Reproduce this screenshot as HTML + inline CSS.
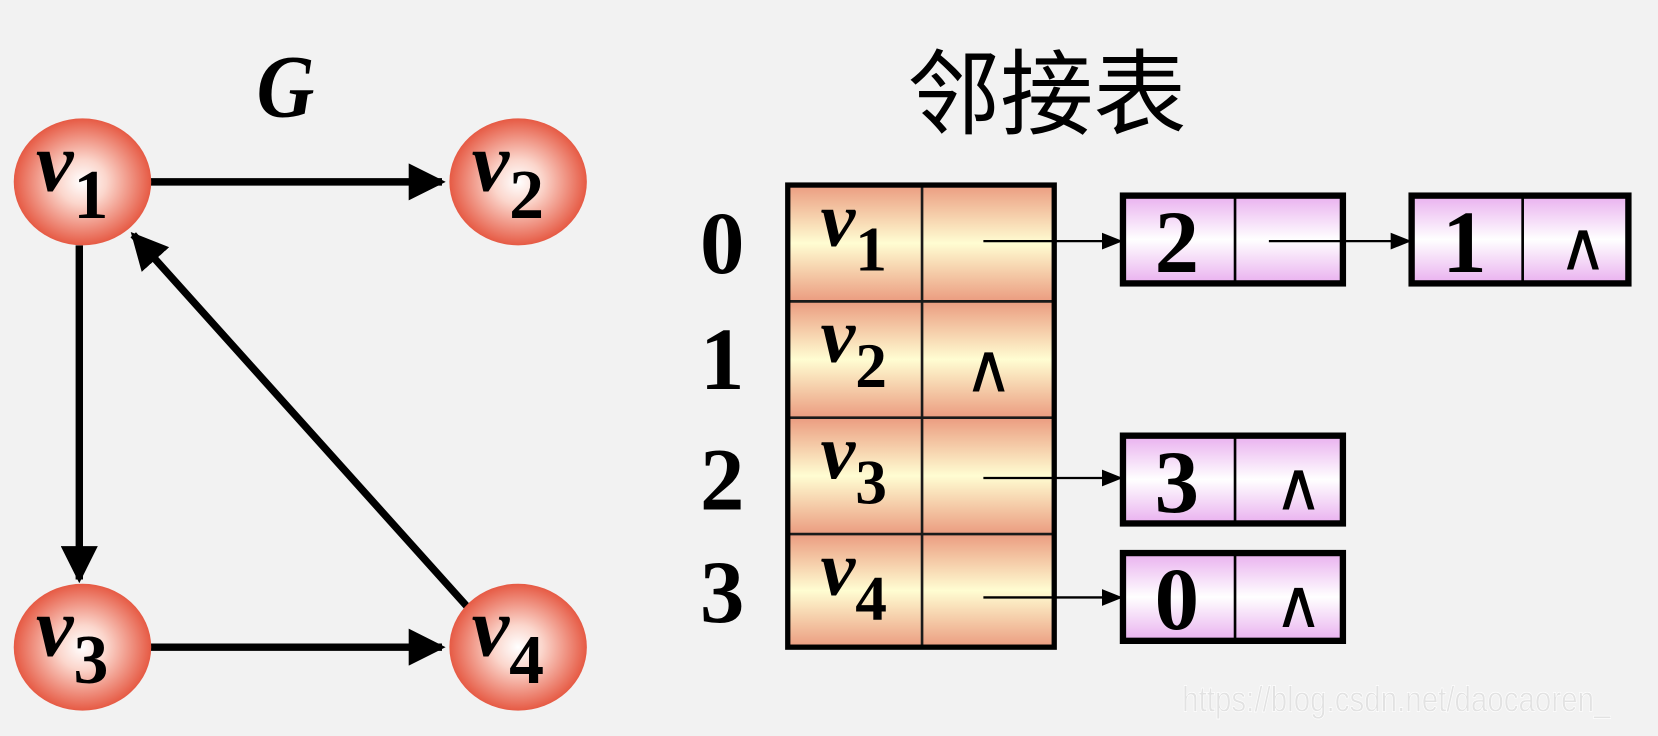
<!DOCTYPE html>
<html><head><meta charset="utf-8"><style>
html,body{margin:0;padding:0;background:#f2f2f2;}
svg{display:block;}
.s{font-family:"Liberation Serif",serif;font-weight:bold;}
</style></head><body>
<svg width="1658" height="736" viewBox="0 0 1568 696" preserveAspectRatio="none" xmlns="http://www.w3.org/2000/svg">
<defs>
<radialGradient id="rg" cx="50%" cy="50%" r="50%">
<stop offset="0" stop-color="#ffffff"/><stop offset="0.35" stop-color="#fbd6cc"/><stop offset="1" stop-color="#e65a44"/>
</radialGradient>
<linearGradient id="og" x1="0" y1="0" x2="0" y2="1">
<stop offset="0" stop-color="#eb9c80"/><stop offset="0.5" stop-color="#fffdd2"/><stop offset="1" stop-color="#eb9c80"/>
</linearGradient>
<linearGradient id="pg" x1="0" y1="0" x2="0" y2="1">
<stop offset="0" stop-color="#e9b0ef"/><stop offset="0.5" stop-color="#ffffff"/><stop offset="1" stop-color="#e9b0ef"/>
</linearGradient>
<marker id="ah" viewBox="0 0 10 10" refX="9" refY="5" markerWidth="5" markerHeight="5" orient="auto" markerUnits="strokeWidth"><path d="M0,0 L10,5 L0,10 z" fill="#000"/></marker>
<marker id="as" viewBox="0 0 10 10" refX="9" refY="5" markerWidth="9" markerHeight="9" orient="auto" markerUnits="strokeWidth"><path d="M0,1 L10,5 L0,9 z" fill="#000"/></marker>
</defs>
<rect width="1568" height="696" fill="#f2f2f2"/>
<!-- Graph -->
<text x="270" y="110" text-anchor="middle" class="s" font-style="italic" font-size="84" transform="translate(270,0) scale(0.9,1) translate(-270,0)">G</text>
<g stroke="#000" stroke-width="7" fill="none">
<line x1="140" y1="172" x2="418" y2="172" marker-end="url(#ah)"/>
<line x1="75" y1="232" x2="75" y2="548" marker-end="url(#ah)"/>
<line x1="140" y1="612" x2="418" y2="612" marker-end="url(#ah)"/>
<line x1="443" y1="575" x2="126" y2="222" marker-end="url(#ah)"/>
</g>
<g>
<ellipse cx="78" cy="172" rx="65" ry="60" fill="url(#rg)"/>
<ellipse cx="490" cy="172" rx="65" ry="60" fill="url(#rg)"/>
<ellipse cx="78" cy="612" rx="65" ry="60" fill="url(#rg)"/>
<ellipse cx="490" cy="612" rx="65" ry="60" fill="url(#rg)"/>
</g>
<g class="s" font-size="80">
<text x="34" y="180"><tspan font-style="italic">v</tspan><tspan font-size="66" dy="26">1</tspan></text>
<text x="446" y="180"><tspan font-style="italic">v</tspan><tspan font-size="66" dy="26">2</tspan></text>
<text x="34" y="620"><tspan font-style="italic">v</tspan><tspan font-size="66" dy="26">3</tspan></text>
<text x="446" y="620"><tspan font-style="italic">v</tspan><tspan font-size="66" dy="26">4</tspan></text>
</g>
<!-- Title -->
<text x="990" y="120" text-anchor="middle" font-family="'Noto Sans CJK SC',sans-serif" font-size="88">邻接表</text>
<!-- Index -->
<g class="s" font-size="84" text-anchor="middle">
<text x="683" y="258">0</text><text x="683" y="368">1</text><text x="683" y="482">2</text><text x="683" y="588">3</text>
</g>
<!-- Table -->
<g>
<rect x="745" y="175" width="127" height="110" fill="url(#og)"/><rect x="872" y="175" width="125" height="110" fill="url(#og)"/>
<rect x="745" y="285" width="127" height="110" fill="url(#og)"/><rect x="872" y="285" width="125" height="110" fill="url(#og)"/>
<rect x="745" y="395" width="127" height="110" fill="url(#og)"/><rect x="872" y="395" width="125" height="110" fill="url(#og)"/>
<rect x="745" y="505" width="127" height="107" fill="url(#og)"/><rect x="872" y="505" width="125" height="107" fill="url(#og)"/>
<g stroke="#1a1a1a" stroke-width="2.5"><line x1="872" y1="175" x2="872" y2="612"/><line x1="745" y1="285" x2="997" y2="285"/><line x1="745" y1="395" x2="997" y2="395"/><line x1="745" y1="505" x2="997" y2="505"/></g>
<rect x="745" y="175" width="252" height="437" fill="none" stroke="#000" stroke-width="5"/>
</g>
<g class="s" font-size="74">
<text x="776" y="232"><tspan font-style="italic">v</tspan><tspan font-size="60" dy="24">1</tspan></text>
<text x="776" y="342"><tspan font-style="italic">v</tspan><tspan font-size="60" dy="24">2</tspan></text>
<text x="776" y="452"><tspan font-style="italic">v</tspan><tspan font-size="60" dy="24">3</tspan></text>
<text x="776" y="562"><tspan font-style="italic">v</tspan><tspan font-size="60" dy="24">4</tspan></text>
</g>
<text x="935" y="370" text-anchor="middle" font-family="'DejaVu Sans',sans-serif" font-size="64">∧</text>
<!-- Nodes -->
<g>
<rect x="1062" y="185" width="106" height="83" fill="url(#pg)"/><rect x="1168" y="185" width="102" height="83" fill="url(#pg)"/>
<rect x="1335" y="185" width="105" height="83" fill="url(#pg)"/><rect x="1440" y="185" width="100" height="83" fill="url(#pg)"/>
<rect x="1062" y="412" width="106" height="83" fill="url(#pg)"/><rect x="1168" y="412" width="102" height="83" fill="url(#pg)"/>
<rect x="1062" y="523" width="106" height="83" fill="url(#pg)"/><rect x="1168" y="523" width="102" height="83" fill="url(#pg)"/>
<g stroke="#000" stroke-width="2.5"><line x1="1168" y1="185" x2="1168" y2="268"/><line x1="1440" y1="185" x2="1440" y2="268"/><line x1="1168" y1="412" x2="1168" y2="495"/><line x1="1168" y1="523" x2="1168" y2="606"/></g>
<g fill="none" stroke="#000" stroke-width="6">
<rect x="1062" y="185" width="208" height="83"/><rect x="1335" y="185" width="205" height="83"/>
<rect x="1062" y="412" width="208" height="83"/><rect x="1062" y="523" width="208" height="83"/>
</g>
</g>
<g class="s" font-size="84" text-anchor="middle">
<text x="1113" y="257">2</text><text x="1385" y="257">1</text><text x="1113" y="484">3</text><text x="1113" y="595">0</text>
</g>
<g font-family="'DejaVu Sans',sans-serif" font-size="64" text-anchor="middle">
<text x="1497" y="255">∧</text><text x="1228" y="482">∧</text><text x="1228" y="593">∧</text>
</g>
<g stroke="#000" stroke-width="2.2">
<line x1="930" y1="228" x2="1060" y2="228" marker-end="url(#as)"/>
<line x1="1200" y1="228" x2="1333" y2="228" marker-end="url(#as)"/>
<line x1="930" y1="452" x2="1060" y2="452" marker-end="url(#as)"/>
<line x1="930" y1="565" x2="1060" y2="565" marker-end="url(#as)"/>
</g>
<text x="1118" y="673" font-family="'Liberation Sans',sans-serif" font-size="34" fill="#e2e2e2" stroke="#ffffff" stroke-width="0.6" textLength="405" lengthAdjust="spacingAndGlyphs">https://blog.csdn.net/daocaoren_</text>
</svg>
</body></html>
